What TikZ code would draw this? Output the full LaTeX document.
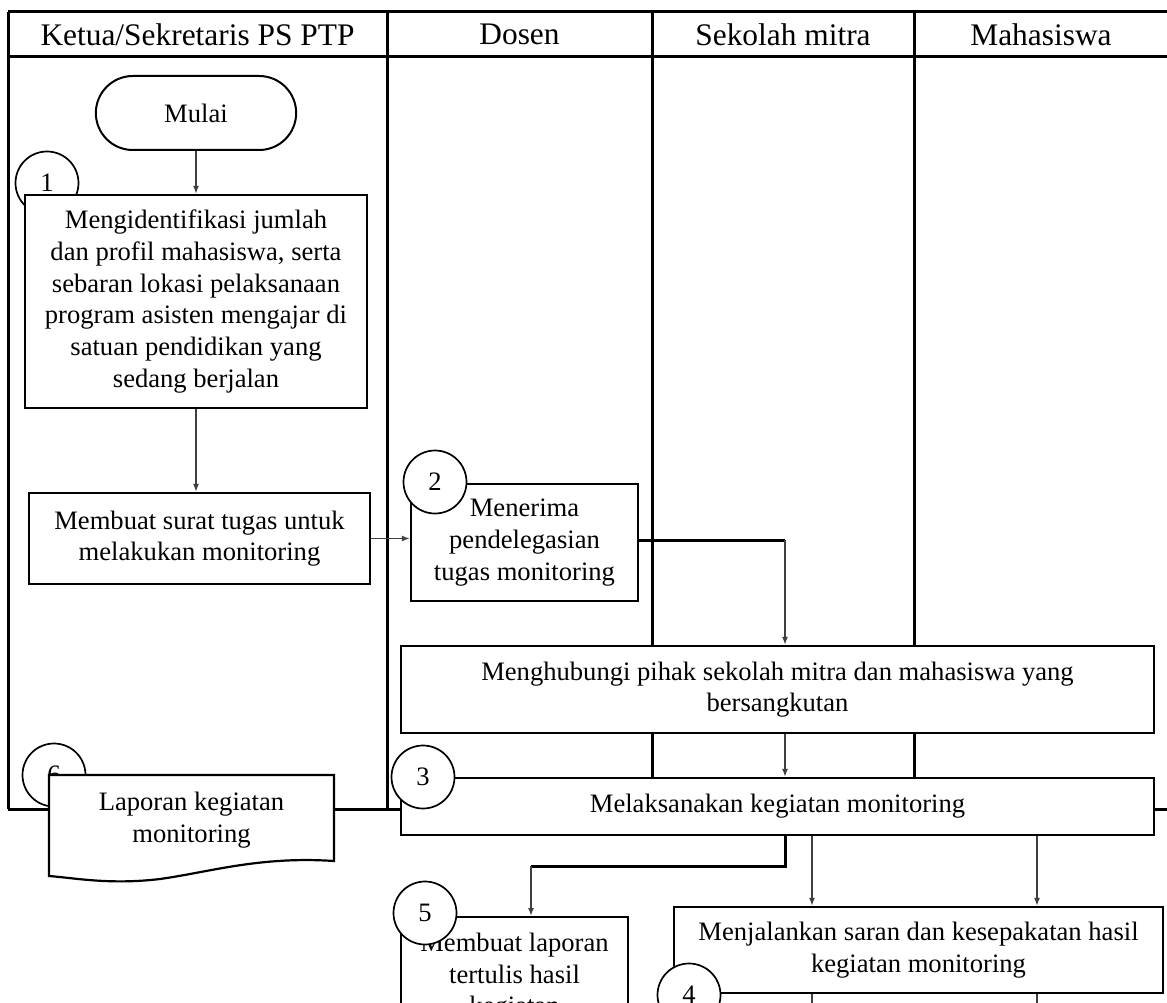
\documentclass[tikz,border=0pt]{standalone}
\usepackage{fontspec}
\setmainfont{Liberation Serif}
\usetikzlibrary{arrows.meta,shapes.misc,positioning}

\begin{document}
\begin{tikzpicture}
  [
  x=1pt, y=-1pt,
  >={Latex[length=8pt,width=6pt]},
  lane/.style={line width=3pt, draw=black},
  head/.style={font=\fontsize{31.4}{37}\selectfont},
  txt/.style={align=center, font=\fontsize{26.6}{31.7}\selectfont},
  proc/.style={rectangle, draw=black, line width=2.2pt, fill=white, txt, inner sep=0pt},
  term/.style={rounded rectangle, draw=black, line width=2pt, fill=white, txt, minimum width=207pt, minimum height=74pt},
  num/.style={circle, draw=black, line width=1.7pt, fill=white, minimum size=63pt, inner sep=0pt, txt},
  flow/.style={->, draw=black!75, line width=1.8pt},
  wire/.style={draw=black!75, line width=1.8pt},
  link/.style={draw=black, line width=3pt}
  ]

\useasboundingbox (0,0) rectangle (1167,1003);

% swimlanes
\draw[lane] (8,12) -- (1175,12);
\draw[lane] (8,57) -- (1175,57);
\draw[lane] (8,809) -- (1175,809);
\foreach \x in {8,387,652,914}
  \draw[lane] (\x,12) -- (\x,809);

\foreach \x/\t [count=\i] in {197.5/{Ketua/Sekretaris PS PTP}, 519.5/Dosen, 783/Sekolah mitra, 1041/Mahasiswa} {
  \node[head] (h\i) at (\x,34.5) {\t};
}

% numbers lying under their boxes
\node[num] (n1) at (47,183) {\raisebox{-6pt}{1}};
\node[num] (n6) at (54,775) {6};

\node[term] (mulai) at (196,113) {Mulai};

\node[proc, minimum width=342pt, minimum height=213pt] (b1) at (196,301.5)
  {Mengidentifikasi jumlah\\dan profil mahasiswa, serta\\sebaran lokasi pelaksanaan\\program asisten mengajar di\\satuan pendidikan yang\\sedang berjalan};
\node[proc, minimum width=341pt, minimum height=91pt] (b2) at (199.5,538.5)
  {Membuat surat tugas untuk\\melakukan monitoring};
\node[proc, minimum width=227pt, minimum height=117pt] (b3) at (524.5,542.5)
  {Menerima\\pendelegasian\\tugas monitoring};
\node[proc, minimum width=753pt, minimum height=87pt] (b4) at (777.5,689.5)
  {Menghubungi pihak sekolah mitra dan mahasiswa yang\\bersangkutan};
\node[proc, minimum width=753pt, minimum height=57pt] (b5) at (777.5,806.5)
  {Melaksanakan kegiatan monitoring};
\node[proc, minimum width=227pt, inner ysep=16pt, anchor=north] (b6) at (514.5,916)
  {Membuat laporan\\tertulis hasil\\kegiatan};
\node[proc, minimum width=489pt, minimum height=86pt] (b7) at (918.5,950)
  {Menjalankan saran dan kesepakatan hasil\\kegiatan monitoring};

% document
\filldraw[fill=white, draw=black, line width=2.2pt]
  (49,775) -- (334,775) -- (334,861)
  .. controls (260,856) and (210,872) .. (160,879)
  .. controls (110,885) and (75,878) .. (49,876) -- cycle;
\node[txt] (lap) at (191.5,820) {Laporan kegiatan\\monitoring};

\node[num] (n2) at (435,482) {2};
\node[num] (n3) at (423,777) {3};
\node[num] (n5) at (425,913) {5};
\node[num] (n4) at (689,995) {4};

\coordinate (t1) at (785,540);
\coordinate (t2) at (531,866);
\coordinate (d1) at (812,1010);
\coordinate (d2) at (1037,1010);

\draw[flow] (mulai) -- (b1);
\draw[flow] (b1.south) -- (b1.south |- b2.north);
\draw[flow] (b2.east) -- (b2.east -| b3.west);
\draw[link] (b3.east |- t1) -- (t1);
\draw[flow] (t1) -- (t1 |- b4.north);
\draw[flow] (t1 |- b4.south) -- (t1 |- b5.north);
\draw[link] (t1 |- b5.south) -- (t1 |- t2) -- (t2);
\draw[flow] (t2) -- (t2 |- b6.north);
\foreach \d in {d1,d2} {
  \draw[flow] (\d |- b5.south) -- (\d |- b7.north);
  \draw[wire] (\d |- b7.south) -- (\d);
}
\end{tikzpicture}
\end{document}
